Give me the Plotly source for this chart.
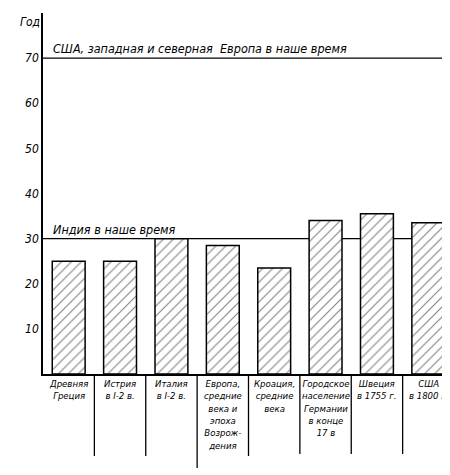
import plotly.graph_objects as go

categories = ["Древняя<br>Греция", "Истрия<br>в I-2 в.", "Италия<br>в I-2 в.",
              "Европа,<br>средние<br>века и<br>эпоха<br>Возрож-<br>дения",
              "Кроация,<br>средние<br>века", "Городское<br>население<br>Германии<br>в конце<br>17 в",
              "Швеция<br>в 1755 г.", "США<br>в 1800 г."]
values = [25, 25, 30, 28.5, 23.5, 34, 35.5, 33.5]
ref_lines = [(70, "США, западная и северная  Европа в наше время"), (30, "Индия в наше время")]
sep_px = [82, 82, 94, 82, 80, 80, 80]

FONT = dict(family="DejaVu Sans Condensed, DejaVu Sans", size=12, color="black", style="italic")

fig = go.Figure(go.Bar(
    x=list(range(len(values))), y=values,
    width=0.64,
    marker=dict(color="white", line=dict(color="black", width=1.5),
                pattern=dict(shape="/", fgcolor="black", size=7, solidity=0.15)),
))

for y, txt in ref_lines:
    fig.add_shape(type="line", xref="paper", x0=0, x1=1, y0=y, y1=y,
                  line=dict(color="black", width=1.3), layer="below")
    fig.add_annotation(x=0.02, xref="paper", y=y, text=txt, showarrow=False,
                       xanchor="left", yanchor="bottom", font=dict(FONT, size=12.5))

for i, c in enumerate(categories):
    fig.add_annotation(x=i, y=0, text=c, showarrow=False, yanchor="top", yshift=-2,
                       font=dict(FONT, size=9.5), align="center")
for i, l in enumerate(sep_px):
    fig.add_shape(type="line", x0=i + 0.5, x1=i + 0.5, yref="paper", y0=0, y1=-l / 361,
                  line=dict(color="black", width=1.3))

fig.add_annotation(x=-0.06, xref="paper", y=80, text="Год", showarrow=False,
                   xanchor="left", yanchor="top", font=FONT)

fig.update_layout(
    width=450, height=475, margin=dict(l=35, r=4, t=5, b=109),
    plot_bgcolor="white", paper_bgcolor="white", showlegend=False,
    xaxis=dict(range=[-0.5, 7.5], showticklabels=False, ticks="", showline=True,
               linecolor="black", linewidth=1.5, showgrid=False, zeroline=False),
    yaxis=dict(range=[0, 80], tickvals=[10, 20, 30, 40, 50, 60, 70], ticks="",
               showline=True, linecolor="black", linewidth=1.5, showgrid=False,
               zeroline=False, tickfont=FONT),
)
fig.write_html("out.html")
